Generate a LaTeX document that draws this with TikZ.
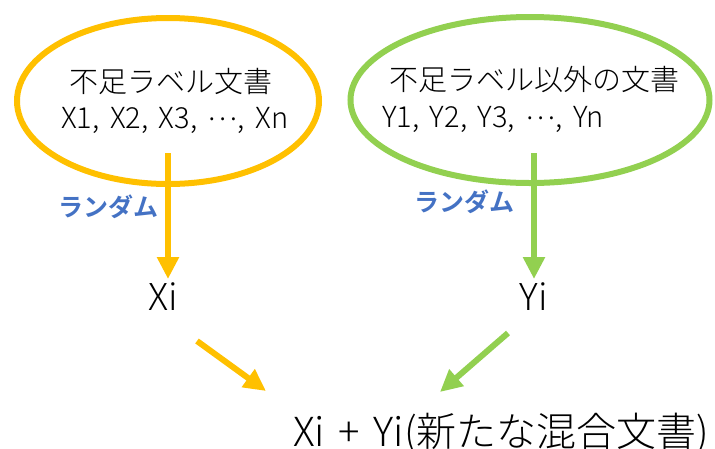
\documentclass[tikz,border=0pt]{standalone}
\usepackage{fontspec}
\setmainfont{Noto Sans CJK JP Light}[BoldFont={Noto Sans CJK JP Bold}]
\usetikzlibrary{shapes.geometric,arrows.meta}
\definecolor{gold}{HTML}{FFC000}
\definecolor{lgreen}{HTML}{92D050}
\definecolor{rblue}{HTML}{4472C4}
\tikzset{
  ring/.style={ellipse, draw, line width=6pt, inner sep=0pt},
  flow/.style={line width=6pt, -{Triangle[length=22pt,width=21pt]}},
  txt/.style={inner sep=0pt, font=\fontsize{29}{32}\selectfont},
  big/.style={inner sep=0pt, font=\fontsize{37}{40}\selectfont},
  bottom/.style={inner sep=0pt, font=\fontsize{40}{44}\selectfont},
  rnd/.style={inner sep=0pt, text=rblue, font=\bfseries\fontsize{25}{28}\selectfont},
}
\newcommand{\gap}{\hspace{0.34em}}
\newcommand{\sep}{\hspace{0.36em}}
\newcommand{\mdots}{\smash{\raisebox{0.25em}{…}}}
\begin{document}
\begin{tikzpicture}[x=1pt,y=-1pt]
\useasboundingbox (0,0) rectangle (715,448);
% ellipses
\node[ring, draw=gold, minimum width=302pt, minimum height=166pt] (A) at (168,101) {};
\node[ring, draw=lgreen, minimum width=359pt, minimum height=166pt] (B) at (530,100) {};
% texts in ellipses
\node[txt] (a1) at (171,82) {不足ラベル文書};
\node[txt, anchor=west] (a2) at (61,120) {X1,\sep X2,\sep X3,\sep\mdots,\sep Xn};
\node[txt, anchor=west] (b1) at (389,80) {不足ラベル以外の文書};
\node[txt, anchor=west] (b2) at (382,119) {Y1,\sep Y2,\sep Y3,\sep\mdots,\sep Yn};
% picked
\node[big] (X) at (163,297) {Xi};
\node[big] (Y) at (534,297) {Yi};
\node[bottom, anchor=west] (M) at (293,434) {Xi\gap+\gap Yi(新たな混合文書)};
% labels
\node[rnd] (r1) at (108,207) {ランダム};
\node[rnd] (r2) at (464,202) {ランダム};
% arrows
\coordinate (sa) at (168,153);
\coordinate (ta) at (168,279);
\coordinate (sb) at (534,153);
\coordinate (tb) at (534,279);
\draw[flow, draw=gold, fill=gold] (sa) -- (ta);
\draw[flow, draw=lgreen, fill=lgreen] (sb) -- (tb);
\coordinate (xa) at (197,341);
\coordinate (xb) at (266,391);
\coordinate (ya) at (508,333);
\coordinate (yb) at (440,392);
\draw[flow, draw=gold, fill=gold] (xa) -- (xb);
\draw[flow, draw=lgreen, fill=lgreen] (ya) -- (yb);
\end{tikzpicture}
\end{document}
